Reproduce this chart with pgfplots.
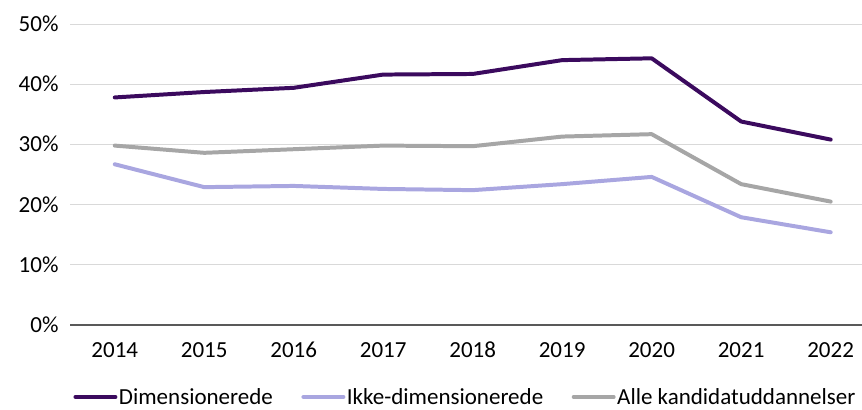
\documentclass[border=0pt]{standalone}
\usepackage{fontspec}
\setmainfont{Carlito}
\usepackage{pgfplots}
\pgfplotsset{compat=1.18}
\definecolor{dimc}{HTML}{3B0A5E}
\definecolor{ikkec}{HTML}{A9A6E0}
\definecolor{allec}{HTML}{A6A6A6}
\definecolor{gridc}{HTML}{D9D9D9}
\definecolor{axc}{HTML}{595959}
\begin{document}
\begin{tikzpicture}
\path[use as bounding box] (0,0) rectangle (862bp,410bp);
\begin{axis}[
  at={(70bp,85bp)}, anchor=south west,
  scale only axis, width=792bp, height=301bp,
  xmin=2013.5, xmax=2022.35, ymin=0, ymax=50,
  xtick={2014,...,2022}, ytick={0,10,...,50},
  yticklabel={\pgfmathprintnumber{\tick}\%},
  /pgf/number format/assume math mode=true,
  xticklabel style={/pgf/number format/1000 sep={}, text height=15bp, text depth=0bp},
  yticklabel style={text height=15bp, text depth=0bp},
  tick label style={font=\fontsize{23bp}{26bp}\selectfont},
  ymajorgrids, grid style={gridc, line width=1pt},
  axis x line*=bottom, axis y line*=left,
  y axis line style={draw=none},
  x axis line style={axc, line width=1.3pt, -},
  tick style={draw=none},
  xticklabel shift=14bp, yticklabel shift=8bp,
  clip=false,
  legend columns=3,
  legend style={draw=none, fill=none, at={(0.499,-0.239)}, anchor=center,
    font=\fontsize{23bp}{26bp}\selectfont,
    nodes={inner xsep=1.5bp},
    /tikz/every even column/.append style={column sep=27bp}},
  legend image code/.code={\draw[#1] (0bp,0bp) -- (40bp,0bp);},
  every axis plot/.append style={line width=4pt, line join=round, line cap=round},
]
\addplot[dimc, line width=4pt] coordinates {(2014,37.8) (2015,38.7) (2016,39.4) (2017,41.6) (2018,41.7) (2019,44.0) (2020,44.3) (2021,33.8) (2022,30.8)};
\addlegendentry{Dimensionerede}
\addplot[ikkec, line width=4pt] coordinates {(2014,26.7) (2015,22.9) (2016,23.1) (2017,22.6) (2018,22.4) (2019,23.4) (2020,24.6) (2021,17.9) (2022,15.4)};
\addlegendentry{Ikke-dimensionerede}
\addplot[allec, line width=4pt] coordinates {(2014,29.8) (2015,28.6) (2016,29.2) (2017,29.8) (2018,29.7) (2019,31.3) (2020,31.7) (2021,23.4) (2022,20.5)};
\addlegendentry{Alle kandidatuddannelser}
\end{axis}
\end{tikzpicture}
\end{document}
